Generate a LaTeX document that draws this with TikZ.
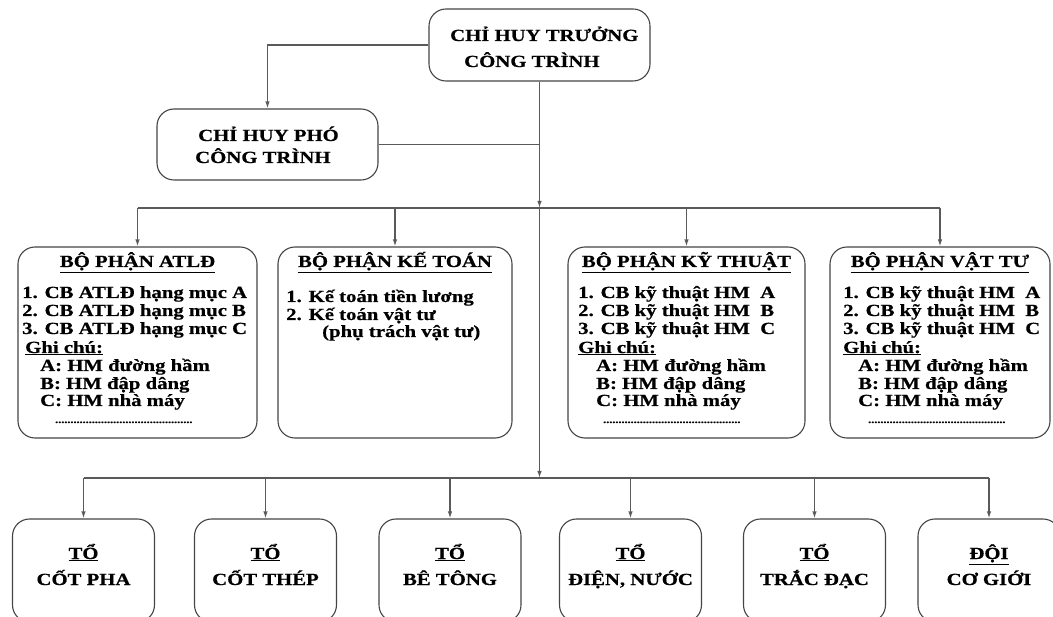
\documentclass[tikz,border=0pt]{standalone}
\usepackage{fontspec}
\setmainfont{Liberation Serif}[FakeStretch=1.22,BoldFeatures={FakeBold=0.6}]
\usetikzlibrary{arrows.meta}
\definecolor{boxc}{HTML}{454545}
\definecolor{linec}{HTML}{5A5A5A}
\definecolor{tipc}{HTML}{8A8A8A}
\newcommand\dotsrow{\fontsize{10}{10}\selectfont .............................................}
\newcommand\hmlist[6]{%
 \node[txt] (#1i1) at (#2,298) {1. #6A};
 \node[txt] (#1i2) at (#2,316) {2. #6B};
 \node[txt] (#1i3) at (#2,334) {3. #6C};
 \node[txt] (#1g) at (#3,353) {\underline{Ghi chú:}};
 \node[txt] (#1a) at (#4,371) {A: HM đường hầm};
 \node[txt] (#1b) at (#4,389) {B: HM đập dâng};
 \node[txt] (#1c) at (#4,406) {C: HM nhà máy};
 \node[txt] (#1d) at (#5,423) {\dotsrow};
}
\begin{document}
\begin{tikzpicture}[x=1pt,y=-1pt,
  box/.style={draw=boxc, line width=1.1pt, rounded corners=17pt, inner sep=0pt, fill=white},
  conn/.style={draw=linec, line width=1.3pt},
  arr/.style={conn, -{Latex[length=7pt,width=4.5pt,fill=tipc]}},
  txt/.style={inner sep=0pt, font=\fontsize{17}{18}\selectfont\bfseries, anchor=base west},
  ctxt/.style={txt, anchor=base}]
\useasboundingbox (0,0) rectangle (1053,617);
\clip (0,0) rectangle (1053,617);
\fill[white] (0,0) rectangle (1053,617);

% top level
\node[box, minimum width=221pt, minimum height=72pt] (top) at (539.5,45) {};
\node[txt] (topa) at (450,41) {CHỈ HUY TRƯỞNG};
\node[txt] (topb) at (464,67) {CÔNG TRÌNH};

\node[box, minimum width=221pt, minimum height=71pt] (chp) at (267.5,144.5) {};
\node[txt] (chpa) at (198,141) {CHỈ HUY PHÓ};
\node[txt] (chpb) at (195,163) {CÔNG TRÌNH};

% middle boxes
\node[box, minimum width=239pt, minimum height=191pt] (atl) at (137.5,342.5) {};
\node[box, minimum width=234pt, minimum height=191pt] (ket) at (395,342.5) {};
\node[box, minimum width=237pt, minimum height=191pt] (kyt) at (686.5,342.5) {};
\node[box, minimum width=220pt, minimum height=191pt] (vat) at (940,342.5) {};

\node[ctxt] (atlt) at (atl.center |- 0,267) {\underline{BỘ PHẬN ATLĐ}};
\node[ctxt] (kett) at (ket.center |- 0,267) {\underline{BỘ PHẬN KẾ TOÁN}};
\node[ctxt] (kytt) at (kyt.center |- 0,267) {\underline{BỘ PHẬN KỸ THUẬT}};
\node[ctxt] (vatt) at (vat.center |- 0,267) {\underline{BỘ PHẬN VẬT TƯ}};

\hmlist{atl}{22}{25}{40}{55}{CB ATLĐ hạng mục }
\hmlist{kyt}{578}{578}{596}{603}{CB kỹ thuật HM\ \ }
\hmlist{vat}{843}{843}{858}{868}{CB kỹ thuật HM\ \ }

\node[txt] (keta) at (286,302) {1. Kế toán tiền lương};
\node[txt] (ketb) at (286,320) {2. Kế toán vật tư};
\node[txt] (ketc) at (322,337) {(phụ trách vật tư)};

% bottom boxes
\foreach \n/\x/\a/\b in {t1/83.5/TỔ/CỐT PHA, t2/265.5/TỔ/CỐT THÉP, t3/450/TỔ/BÊ TÔNG,
    t4/630.5/TỔ/{ĐIỆN, NƯỚC}, t5/814.5/TỔ/TRẮC ĐẠC, t6/989/ĐỘI/CƠ GIỚI}{
  \node[box, minimum width=142pt, minimum height=103pt] (\n) at (\x,570.5) {};
  \node[ctxt] (\n a) at (\x,559) {\underline{\a}};
  \node[ctxt] (\n b) at (\x,585) {\b};
}

% connectors
\draw[arr] (top.west) -| (chp.north);
\draw[conn] (chp.east) -- (chp.east -| top.south);
\coordinate (b1) at (539.5,208);
\coordinate (b2) at (539.5,478);
\draw[arr] (top.south) -- (b1);
\draw[arr] (b1) -- (b2);
\draw[conn] (atl.north |- b1) -- (vat.north |- b1);
\foreach \n in {atl,ket,kyt,vat} \draw[arr] (\n.north |- b1) -- (\n.north);
\draw[conn] (t1.north |- b2) -- (t6.north |- b2);
\foreach \n in {t1,t2,t3,t4,t5,t6} \draw[arr] (\n.north |- b2) -- (\n.north);
\end{tikzpicture}
\end{document}
